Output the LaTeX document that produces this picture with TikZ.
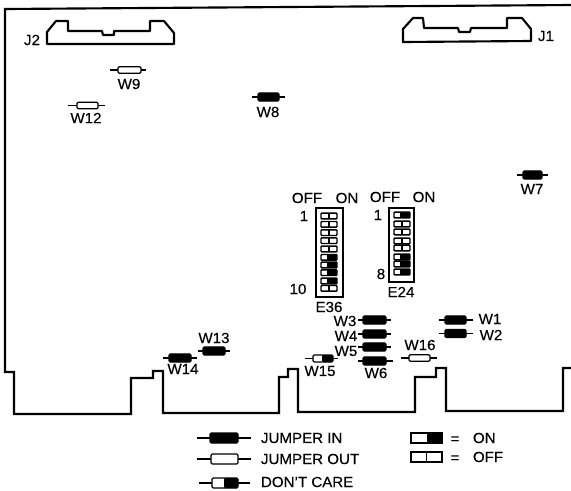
\documentclass[tikz,border=0pt]{standalone}
\usepackage{fontspec}
\setmainfont[FakeBold=0.3,FakeStretch=1.03]{Liberation Sans}
\newcommand{\jmpr}[7]{% name, x-lead-left, x-body-left, x-body-right, x-lead-right, y, kind
  \coordinate (#1a) at (#2,#6);
  \coordinate (#1b) at (#5,#6);
  \draw[lead] (#1a) -- (#1b);
  \node[jbody,minimum height=6.2pt,#7,minimum width={(#4-#3)*0.75pt}] (#1) at ({(#3+#4)/2},#6) {};
}
\newcommand{\halfj}[5]{% name, xl, xr, y, height px : white left and black right
  \node[jbody,fill=white,minimum width={(#3-#2)*0.75pt},minimum height={#5*0.75pt}] (#1) at ({(#2+#3)/2},#4) {};
  \fill[black,rounded corners=0.8pt] ({(#2+#3)/2-1},#4-#5/2) rectangle (#3,#4+#5/2);
}
\newcommand{\dipsw}[4]{% name, xl, xr, y ; off
  \node[swbox,minimum width={(#3-#2)*0.75pt}] (#1) at ({(#2+#3)/2},#4) {};
  \draw[line width=1.1pt] ({(#2+#3)/2},#4-2.5) -- ({(#2+#3)/2},#4+2.5);
}
\newcommand{\dipon}[4]{% name, xl, xr, y ; on
  \node[swbox,minimum width={(#3-#2)*0.75pt}] (#1) at ({(#2+#3)/2},#4) {};
  \fill[black] (#2+6,#4-3) rectangle (#3,#4+3);
}
\begin{document}
\begin{tikzpicture}[x=0.75pt,y=-0.75pt,
  board/.style={line width=1.6pt,line join=miter},
  conn/.style={line width=1.6pt,line join=round},
  lead/.style={line width=0.9pt},
  jbody/.style={draw,line width=0.9pt,rounded corners=1pt,inner sep=0pt,outer sep=0pt,fill=white},
  black body/.style={fill=black},
  white body/.style={fill=white,minimum height=5pt},
  swbox/.style={draw,line width=1.1pt,fill=white,inner sep=0pt,outer sep=0pt,minimum height=4.2pt,rounded corners=0.6pt},
  frame/.style={draw,line width=1.8pt,inner sep=0pt,outer sep=0pt},
  lab/.style={font=\fontsize{11pt}{12pt}\selectfont,inner sep=0pt,outer sep=0pt}]
\useasboundingbox (0,0) rectangle (571,490);
% board
\draw[board] (571,5) -- (5,9) -- (5,372) -- (14,372) -- (14,414) -- (131,414) -- (131,378) -- (153,378) -- (153,371) -- (163,371) -- (163,413) -- (279,413) -- (279,377) -- (288,377) -- (288,369) -- (298,369) -- (298,412) -- (415,412) -- (415,377) -- (436,377) -- (436,368) -- (446,368) -- (446,411) -- (563,411) -- (563,368) -- (571,368);
% connectors
\draw[conn] (47,44) -- (47,32) -- (56,21) -- (68,21) -- (68,31) -- (102,31) -- (103,35) -- (114,35) -- (114,31) -- (150,31) -- (150,21) -- (164,21) -- (174,33) -- (174,44) -- cycle;
\draw[conn] (403,42) -- (403,29) -- (413,18) -- (423,18) -- (424,28) -- (458,28) -- (459,32) -- (470,32) -- (471,28) -- (507,28) -- (507,18) -- (522,18) -- (531,29) -- (531,41) -- cycle;
\node[lab] (j2) at (32,40) {J2};
\node[lab] (j1) at (546,36) {J1};
% jumpers
\jmpr{w9}{110}{118}{141}{146}{70}{white body}
\jmpr{w12}{68}{77}{98}{105}{105.5}{white body}
\jmpr{w16}{401}{409}{430}{437}{358}{white body}
\jmpr{w8}{252}{258}{279}{285}{97}{black body}
\jmpr{w7}{517}{523}{542}{548}{175}{black body}
\jmpr{w1}{439}{445}{466}{473}{320}{black body}
\jmpr{w2}{439}{445}{466}{473}{333.5}{black body}
\jmpr{w3}{358}{363}{386}{391}{320}{black body}
\jmpr{w4}{358}{363}{386}{391}{334}{black body}
\jmpr{w5}{358}{363}{386}{391}{347}{black body}
\jmpr{w6}{358}{363}{386}{393}{361}{black body}
\jmpr{w13}{198}{203}{225}{230}{351}{black body}
\jmpr{w14}{163}{169}{191}{197}{358}{black body}
\coordinate (w15a) at (305,358.5);
\coordinate (w15b) at (338,358.5);
\draw[lead] (w15a) -- (w15b);
\halfj{w15}{313}{333}{358.5}{7}
\node[lab] (lw9) at (129,84) {W9};
\node[lab] (lw12) at (86,118) {W12};
\node[lab] (lw8) at (268,112) {W8};
\node[lab] (lw7) at (532,189) {W7};
\node[lab] (lw1) at (490,319) {W1};
\node[lab] (lw2) at (491,335) {W2};
\node[lab] (lw3) at (345,321) {W3};
\node[lab] (lw4) at (346,336) {W4};
\node[lab] (lw5) at (346,351) {W5};
\node[lab] (lw6) at (376,373) {W6};
\node[lab] (lw15) at (320,371) {W15};
\node[lab] (lw16) at (420,345) {W16};
\node[lab] (lw13) at (214,338) {W13};
\node[lab] (lw14) at (183,369) {W14};
% DIP E36
\node[frame,minimum width=20.25pt,minimum height=66.75pt] (e36) at (329.5,252.5) {};
\dipsw{a1}{321}{337}{216}
\dipsw{a2}{321}{337}{224.3}
\dipsw{a3}{321}{337}{232.7}
\dipsw{a4}{321}{337}{240.7}
\dipsw{a5}{321}{337}{249}
\dipon{a6}{321}{337}{257.3}
\dipon{a7}{321}{337}{265}
\dipon{a8}{321}{337}{272.7}
\dipon{a9}{321}{337}{281}
\dipsw{a10}{321}{337}{288.3}
% DIP E24
\node[frame,minimum width=18.75pt,minimum height=55.5pt] (e24) at (401.5,245) {};
\dipon{b1}{394}{410}{215}
\dipsw{b2}{394}{410}{224}
\dipsw{b3}{394}{410}{232}
\dipsw{b4}{394}{410}{241}
\dipsw{b5}{394}{410}{248}
\dipon{b6}{394}{410}{257}
\dipon{b7}{394}{410}{264}
\dipon{b8}{394}{410}{272}
\node[lab] (off1) at (307,198) {OFF};
\node[lab] (on1) at (347,198) {ON};
\node[lab] (n1a) at (304,216) {1};
\node[lab] (n10) at (298,289) {10};
\node[lab] (le36) at (329,307) {E36};
\node[lab] (off2) at (385,197) {OFF};
\node[lab] (on2) at (424,197) {ON};
\node[lab] (n1b) at (378,215) {1};
\node[lab] (n8) at (381,274) {8};
\node[lab] (le24) at (401,292) {E24};
% legend
\coordinate (k1a) at (197,438);
\coordinate (k1b) at (251,438);
\draw[lead] (k1a) -- (k1b);
\node[jbody,black body,minimum width=21pt,minimum height=7.5pt] (k1) at (224,438) {};
\coordinate (k2a) at (197,459);
\coordinate (k2b) at (251,459);
\draw[lead] (k2a) -- (k2b);
\node[jbody,fill=white,minimum width=20.25pt,minimum height=7.5pt] (k2) at (224.5,459) {};
\coordinate (k3a) at (199,483);
\coordinate (k3b) at (250,483);
\draw[lead] (k3a) -- (k3b);
\halfj{k3}{212}{238}{483}{10}
\node[lab,anchor=west] (t1) at (261,438) {JUMPER IN};
\node[lab,anchor=west] (t2) at (261,459) {JUMPER OUT};
\node[lab,anchor=west] (t3) at (261,482) {DON'T CARE};
\node[draw,line width=1.1pt,fill=white,inner sep=0pt,outer sep=0pt,minimum width=23.25pt,minimum height=7.5pt] (s1) at (426.5,438) {};
\fill[black] (427,433) rectangle (442,443);
\node[draw,line width=1.1pt,fill=white,inner sep=0pt,outer sep=0pt,minimum width=23.25pt,minimum height=7.5pt] (s2) at (426.5,457) {};
\draw[line width=1.1pt] (s2.north) -- (s2.south);
\node[lab] (eq1) at (455,440) {=};
\node[lab] (eq2) at (455,459) {=};
\node[lab,anchor=west] (t4) at (473,438) {ON};
\node[lab,anchor=west] (t5) at (473,457) {OFF};
\end{tikzpicture}
\end{document}
